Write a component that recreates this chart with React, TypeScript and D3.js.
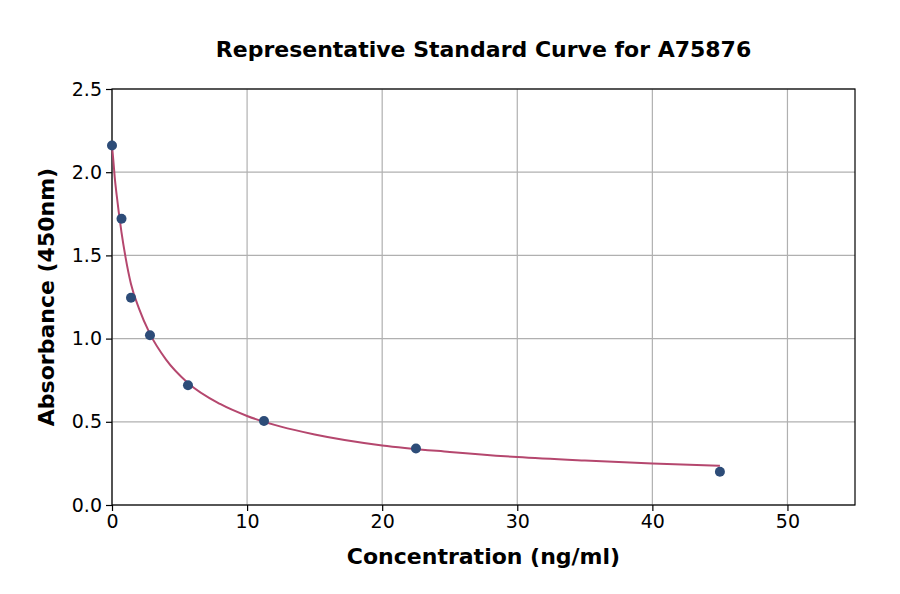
import React, { useRef, useEffect } from 'react';
import * as d3 from 'd3';

// standard points
const concentrations = [0, 0.703, 1.406, 2.8125, 5.625, 11.25, 22.5, 45];
const absorbances = [2.16, 1.72, 1.245, 1.02, 0.72, 0.505, 0.34, 0.2];

// fitted curve
const curveX = [0, 0.1, 0.2, 0.35, 0.5, 0.7, 1, 1.4, 2, 2.8, 4, 5.6, 8, 10, 12.5, 15, 20, 25, 30, 35, 40, 45];
const curveY = [2.16, 2.07, 1.97, 1.86, 1.76, 1.64, 1.49, 1.33, 1.18, 1.03, 0.874, 0.735, 0.607, 0.535, 0.471, 0.424, 0.358, 0.319, 0.288, 0.267, 0.25, 0.236];

const xTicks = [0, 10, 20, 30, 40, 50];
const yTicks = [0, 0.5, 1.0, 1.5, 2.0, 2.5];

const title = 'Representative Standard Curve for A75876';
const xLabel = 'Concentration (ng/ml)';
const yLabel = 'Absorbance (450nm)';

const StandardCurve: React.FC = () => {
    const ref = useRef<SVGSVGElement>(null);

    useEffect(() => {
        if (!ref.current) return;
        const svg = d3.select(ref.current);
        svg.selectAll("*").remove();

        const width = 900;
        const height = 594;
        const margin = { top: 89, right: 45, bottom: 89, left: 112 };
        const innerWidth = width - margin.left - margin.right;
        const innerHeight = height - margin.top - margin.bottom;
        const font = "'DejaVu Sans', sans-serif";

        const g = svg.append("g").attr("transform", `translate(${margin.left},${margin.top})`);

        const xScale = d3.scaleLinear().domain([0, 55]).range([0, innerWidth]);
        const yScale = d3.scaleLinear().domain([0, 2.5]).range([innerHeight, 0]);

        // grid
        g.append("g").selectAll("line").data(xTicks).enter().append("line")
            .attr("x1", d => xScale(d)).attr("x2", d => xScale(d))
            .attr("y1", 0).attr("y2", innerHeight)
            .attr("stroke", "#b0b0b0").attr("stroke-width", 1.2);
        g.append("g").selectAll("line").data(yTicks).enter().append("line")
            .attr("x1", 0).attr("x2", innerWidth)
            .attr("y1", d => yScale(d)).attr("y2", d => yScale(d))
            .attr("stroke", "#b0b0b0").attr("stroke-width", 1.2);

        // axes
        const xAxis = g.append("g")
            .attr("transform", `translate(0,${innerHeight})`)
            .call(d3.axisBottom(xScale).tickValues(xTicks).tickFormat(d3.format("d")).tickSize(6).tickPadding(4));
        const yAxis = g.append("g")
            .call(d3.axisLeft(yScale).tickValues(yTicks).tickFormat(d3.format(".1f")).tickSize(6).tickPadding(4));
        [xAxis, yAxis].forEach(a => {
            a.select(".domain").remove();
            a.selectAll(".tick line").attr("stroke", "#000").attr("stroke-width", 1.2);
            a.selectAll("text").attr("font-family", font).attr("font-size", 19).attr("fill", "#000");
        });

        // frame
        g.append("rect")
            .attr("x", 0).attr("y", 0)
            .attr("width", innerWidth).attr("height", innerHeight)
            .attr("fill", "none").attr("stroke", "#000").attr("stroke-width", 1.2);

        // fitted curve
        const line = d3.line<number>()
            .x((d, i) => xScale(curveX[i]))
            .y(d => yScale(d))
            .curve(d3.curveMonotoneX);
        g.append("path")
            .datum(curveY)
            .attr("d", line)
            .attr("fill", "none")
            .attr("stroke", "#b5476e")
            .attr("stroke-width", 2);

        // points
        g.append("g").selectAll("circle").data(absorbances).enter().append("circle")
            .attr("cx", (d, i) => xScale(concentrations[i]))
            .attr("cy", d => yScale(d))
            .attr("r", 5)
            .attr("fill", "#2d4c78");

        // labels
        svg.append("text")
            .attr("x", margin.left + innerWidth / 2).attr("y", 57)
            .attr("text-anchor", "middle")
            .attr("font-family", font).attr("font-size", 22).attr("font-weight", "bold")
            .text(title);
        svg.append("text")
            .attr("x", margin.left + innerWidth / 2).attr("y", 564)
            .attr("text-anchor", "middle")
            .attr("font-family", font).attr("font-size", 22).attr("font-weight", "bold")
            .text(xLabel);
        svg.append("text")
            .attr("transform", `translate(54,${margin.top + innerHeight / 2}) rotate(-90)`)
            .attr("text-anchor", "middle")
            .attr("font-family", font).attr("font-size", 22).attr("font-weight", "bold")
            .text(yLabel);
    }, []);

    return <svg ref={ref} width={900} height={594} style={{ position: 'absolute', left: 0, top: 0, background: '#fff' }} />;
};

export default function App() {
    return <StandardCurve />;
}
